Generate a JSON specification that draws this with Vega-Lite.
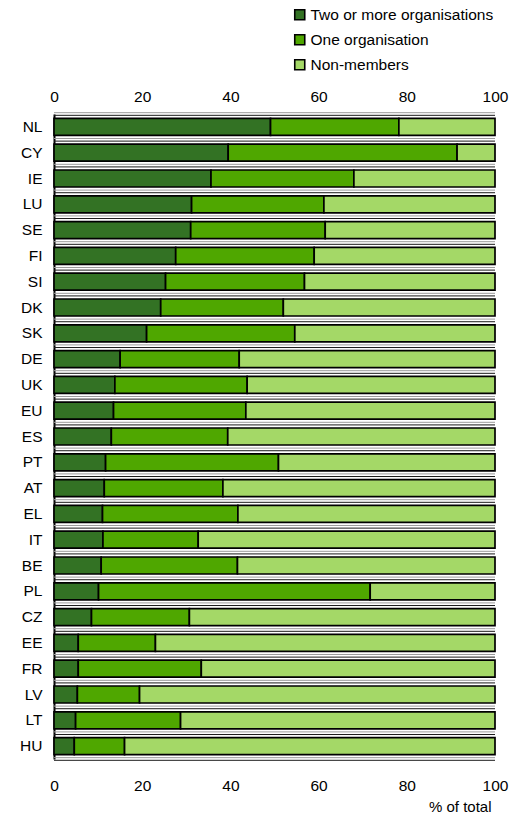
{
  "$schema": "https://vega.github.io/schema/vega-lite/v6.json",
  "autosize": "none",
  "width": 441,
  "height": 645,
  "padding": {"left": 54, "top": 114, "right": 32, "bottom": 58},
  "background": "white",
  "config": {
    "view": {"stroke": null},
    "font": "Liberation Sans",
    "axis": {"labelFont": "Liberation Sans", "labelFontSize": 15.5, "labelColor": "#000", "titleFont": "Liberation Sans"},
    "axisX": {"labelFlush": false, "labelOverlap": false, "labelBound": false},
    "legend": {"labelFont": "Liberation Sans", "labelFontSize": 15.5, "labelColor": "#000", "labelLimit": 400}
  },
  "data": {"values": [
    {"c":"NL","g":"Two or more organisations","o":1,"v":49.1},{"c":"NL","g":"One organisation","o":2,"v":29.1},{"c":"NL","g":"Non-members","o":3,"v":21.8},
    {"c":"CY","g":"Two or more organisations","o":1,"v":39.5},{"c":"CY","g":"One organisation","o":2,"v":51.9},{"c":"CY","g":"Non-members","o":3,"v":8.6},
    {"c":"IE","g":"Two or more organisations","o":1,"v":35.6},{"c":"IE","g":"One organisation","o":2,"v":32.4},{"c":"IE","g":"Non-members","o":3,"v":32.0},
    {"c":"LU","g":"Two or more organisations","o":1,"v":31.2},{"c":"LU","g":"One organisation","o":2,"v":30.0},{"c":"LU","g":"Non-members","o":3,"v":38.8},
    {"c":"SE","g":"Two or more organisations","o":1,"v":31.0},{"c":"SE","g":"One organisation","o":2,"v":30.5},{"c":"SE","g":"Non-members","o":3,"v":38.5},
    {"c":"FI","g":"Two or more organisations","o":1,"v":27.6},{"c":"FI","g":"One organisation","o":2,"v":31.4},{"c":"FI","g":"Non-members","o":3,"v":41.0},
    {"c":"SI","g":"Two or more organisations","o":1,"v":25.3},{"c":"SI","g":"One organisation","o":2,"v":31.5},{"c":"SI","g":"Non-members","o":3,"v":43.2},
    {"c":"DK","g":"Two or more organisations","o":1,"v":24.2},{"c":"DK","g":"One organisation","o":2,"v":27.8},{"c":"DK","g":"Non-members","o":3,"v":48.0},
    {"c":"SK","g":"Two or more organisations","o":1,"v":21.0},{"c":"SK","g":"One organisation","o":2,"v":33.6},{"c":"SK","g":"Non-members","o":3,"v":45.4},
    {"c":"DE","g":"Two or more organisations","o":1,"v":15.0},{"c":"DE","g":"One organisation","o":2,"v":27.0},{"c":"DE","g":"Non-members","o":3,"v":58.0},
    {"c":"UK","g":"Two or more organisations","o":1,"v":13.8},{"c":"UK","g":"One organisation","o":2,"v":30.0},{"c":"UK","g":"Non-members","o":3,"v":56.2},
    {"c":"EU","g":"Two or more organisations","o":1,"v":13.5},{"c":"EU","g":"One organisation","o":2,"v":30.0},{"c":"EU","g":"Non-members","o":3,"v":56.5},
    {"c":"ES","g":"Two or more organisations","o":1,"v":13.0},{"c":"ES","g":"One organisation","o":2,"v":26.4},{"c":"ES","g":"Non-members","o":3,"v":60.6},
    {"c":"PT","g":"Two or more organisations","o":1,"v":11.7},{"c":"PT","g":"One organisation","o":2,"v":39.2},{"c":"PT","g":"Non-members","o":3,"v":49.1},
    {"c":"AT","g":"Two or more organisations","o":1,"v":11.4},{"c":"AT","g":"One organisation","o":2,"v":26.9},{"c":"AT","g":"Non-members","o":3,"v":61.7},
    {"c":"EL","g":"Two or more organisations","o":1,"v":11.0},{"c":"EL","g":"One organisation","o":2,"v":30.7},{"c":"EL","g":"Non-members","o":3,"v":58.3},
    {"c":"IT","g":"Two or more organisations","o":1,"v":11.1},{"c":"IT","g":"One organisation","o":2,"v":21.6},{"c":"IT","g":"Non-members","o":3,"v":67.3},
    {"c":"BE","g":"Two or more organisations","o":1,"v":10.7},{"c":"BE","g":"One organisation","o":2,"v":30.9},{"c":"BE","g":"Non-members","o":3,"v":58.4},
    {"c":"PL","g":"Two or more organisations","o":1,"v":10.1},{"c":"PL","g":"One organisation","o":2,"v":61.6},{"c":"PL","g":"Non-members","o":3,"v":28.3},
    {"c":"CZ","g":"Two or more organisations","o":1,"v":8.5},{"c":"CZ","g":"One organisation","o":2,"v":22.2},{"c":"CZ","g":"Non-members","o":3,"v":69.3},
    {"c":"EE","g":"Two or more organisations","o":1,"v":5.5},{"c":"EE","g":"One organisation","o":2,"v":17.5},{"c":"EE","g":"Non-members","o":3,"v":77.0},
    {"c":"FR","g":"Two or more organisations","o":1,"v":5.5},{"c":"FR","g":"One organisation","o":2,"v":27.9},{"c":"FR","g":"Non-members","o":3,"v":66.6},
    {"c":"LV","g":"Two or more organisations","o":1,"v":5.3},{"c":"LV","g":"One organisation","o":2,"v":14.1},{"c":"LV","g":"Non-members","o":3,"v":80.6},
    {"c":"LT","g":"Two or more organisations","o":1,"v":4.9},{"c":"LT","g":"One organisation","o":2,"v":23.8},{"c":"LT","g":"Non-members","o":3,"v":71.3},
    {"c":"HU","g":"Two or more organisations","o":1,"v":4.6},{"c":"HU","g":"One organisation","o":2,"v":11.4},{"c":"HU","g":"Non-members","o":3,"v":84.0}
  ]},
  "resolve": {"axis": {"x": "independent"}},
  "layer": [
    {
      "transform": [{"filter": "datum.o == 1"}],
      "mark": {"type": "rule", "color": "#9a9a9a", "strokeWidth": 1},
      "encoding": {
        "y": {"field": "c", "type": "nominal", "bandPosition": -0.334, "sort": ["NL","CY","IE","LU","SE","FI","SI","DK","SK","DE","UK","EU","ES","PT","AT","EL","IT","BE","PL","CZ","EE","FR","LV","LT","HU"]}
      }
    },
    {
      "transform": [{"filter": "datum.o == 1"}],
      "mark": {"type": "rule", "color": "#1a1a1a", "strokeWidth": 1},
      "encoding": {
        "y": {"field": "c", "type": "nominal", "bandPosition": -0.18, "sort": ["NL","CY","IE","LU","SE","FI","SI","DK","SK","DE","UK","EU","ES","PT","AT","EL","IT","BE","PL","CZ","EE","FR","LV","LT","HU"]}
      }
    },
    {
      "transform": [{"filter": "datum.o == 1 && datum.c == 'HU'"}],
      "mark": {"type": "rule", "color": "#9a9a9a", "strokeWidth": 1},
      "encoding": {
        "y": {"field": "c", "type": "nominal", "bandPosition": 1.18, "sort": ["NL","CY","IE","LU","SE","FI","SI","DK","SK","DE","UK","EU","ES","PT","AT","EL","IT","BE","PL","CZ","EE","FR","LV","LT","HU"]}
      }
    },
    {
      "transform": [{"filter": "datum.o == 1 && datum.c == 'HU'"}],
      "mark": {"type": "rule", "color": "#1a1a1a", "strokeWidth": 1},
      "encoding": {
        "y": {"field": "c", "type": "nominal", "bandPosition": 1.334, "sort": ["NL","CY","IE","LU","SE","FI","SI","DK","SK","DE","UK","EU","ES","PT","AT","EL","IT","BE","PL","CZ","EE","FR","LV","LT","HU"]}
      }
    },
    {
      "mark": {"type": "bar", "stroke": "#000", "strokeWidth": 1.7},
      "encoding": {
        "y": {"field": "c", "type": "nominal", "sort": ["NL","CY","IE","LU","SE","FI","SI","DK","SK","DE","UK","EU","ES","PT","AT","EL","IT","BE","PL","CZ","EE","FR","LV","LT","HU"],
              "scale": {"paddingInner": 0.34, "paddingOuter": 0.17},
              "axis": {"title": null, "ticks": false, "labelPadding": 12, "domainColor": "#000", "domainWidth": 2, "grid": false}},
        "x": {"field": "v", "type": "quantitative", "stack": "zero",
              "scale": {"domain": [0, 100], "nice": false},
              "axis": {"orient": "bottom", "values": [0,20,40,60,80,100], "ticks": false, "grid": false, "domain": false, "labelPadding": 19, "title": "% of total", "titleFontSize": 15, "titleFontWeight": "normal", "titleColor": "#000", "titleX": 437, "titleY": 47, "titleAlign": "right", "titleBaseline": "middle", "titleAnchor": null}},
        "color": {"field": "g", "type": "nominal",
                  "scale": {"domain": ["Two or more organisations","One organisation","Non-members"], "range": ["#337224","#4fa700","#a4d867"]},
                  "legend": {"title": null, "orient": "none", "legendX": 238, "legendY": -107, "symbolType": "square", "symbolSize": 100, "symbolStrokeColor": "#000", "symbolStrokeWidth": 1.6, "symbolOpacity": 1, "rowPadding": 7, "labelOffset": 3}},
        "order": {"field": "o", "type": "quantitative"}
      }
    },
    {
      "mark": {"type": "bar", "opacity": 0},
      "encoding": {
        "y": {"field": "c", "type": "nominal", "sort": ["NL","CY","IE","LU","SE","FI","SI","DK","SK","DE","UK","EU","ES","PT","AT","EL","IT","BE","PL","CZ","EE","FR","LV","LT","HU"]},
        "x": {"field": "v", "type": "quantitative", "stack": "zero",
              "axis": {"orient": "top", "values": [0,20,40,60,80,100], "ticks": false, "grid": false, "domain": false, "labelPadding": 10, "title": null}},
        "order": {"field": "o", "type": "quantitative"}
      }
    }
  ]
}
